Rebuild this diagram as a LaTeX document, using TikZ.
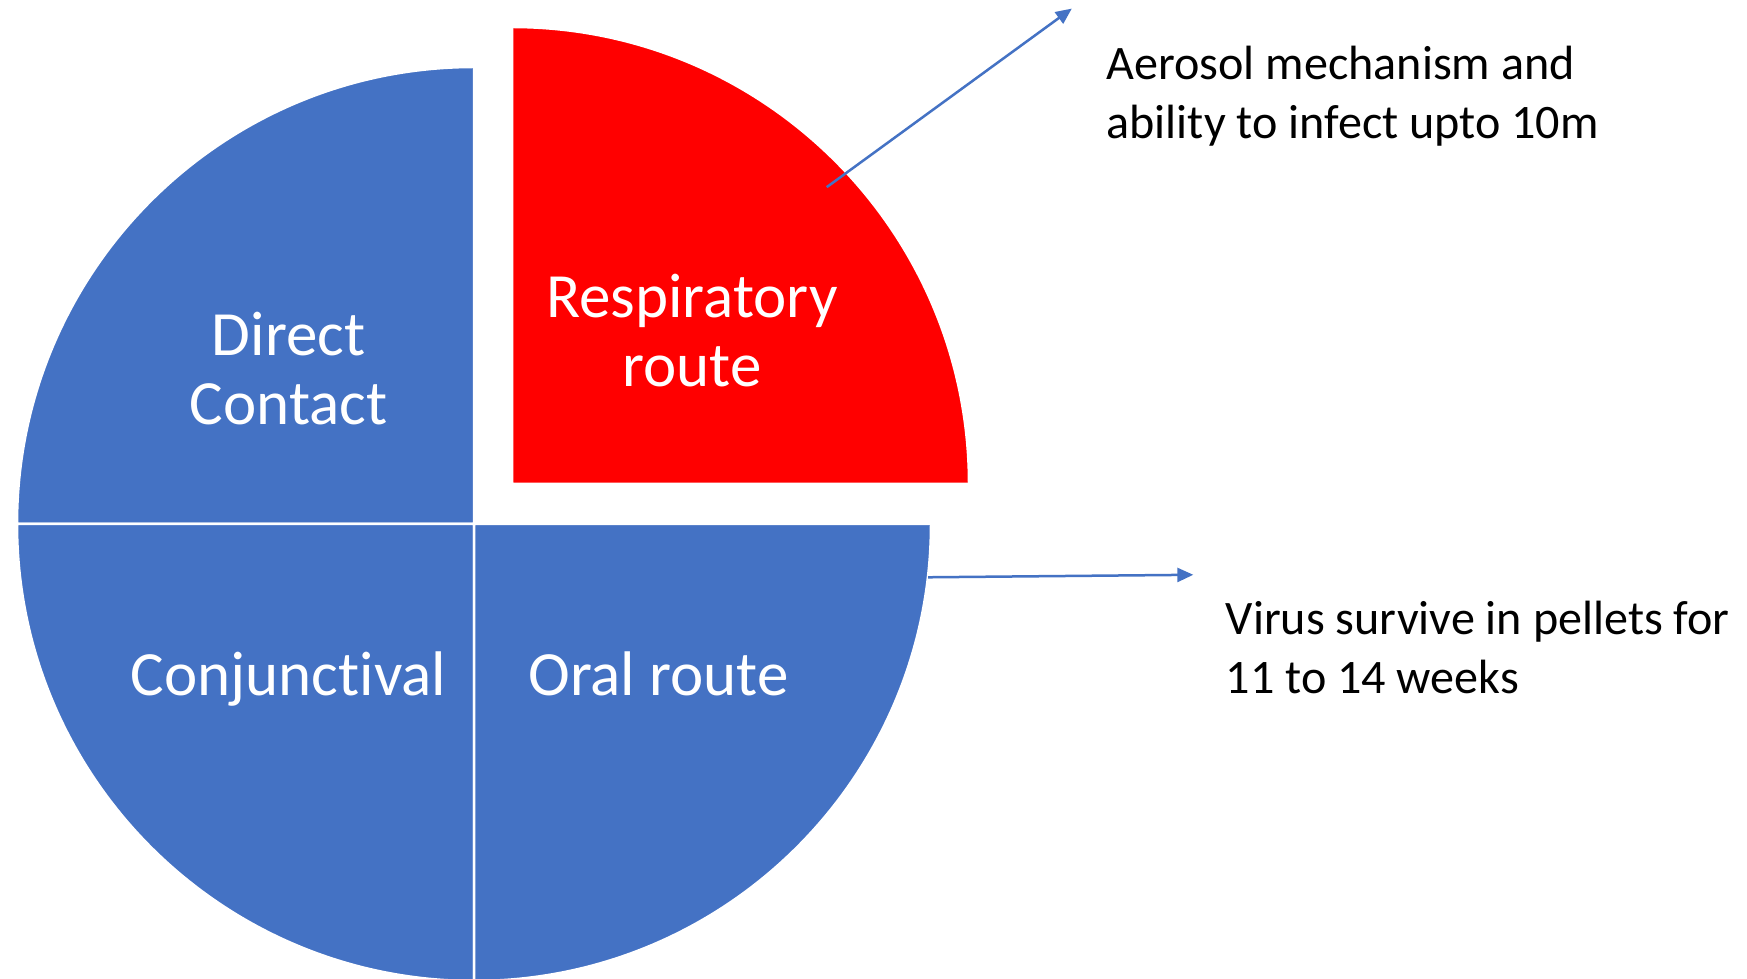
\documentclass[tikz,border=0pt]{standalone}
\usepackage{fontspec}
\setmainfont{Carlito}[Ligatures=NoCommon]
\usetikzlibrary{arrows.meta}
\definecolor{pieblue}{HTML}{4472C4}
\definecolor{piered}{HTML}{FF0000}
\begin{document}
\begin{tikzpicture}[x=1pt,y=1pt,
  slice/.style={draw=white, line width=2.5pt, line join=miter},
  biglabel/.style={text=white, font=\fontsize{63}{69}\selectfont, align=center, inner sep=0pt},
  note/.style={text=black, font=\fontsize{48.1}{59}\selectfont, align=left, inner sep=0pt, anchor=west},
  pointer/.style={draw=pieblue, line width=2.5pt, -{Triangle[length=16pt,width=14pt]}}]
\fill[white] (0,0) rectangle (1747,979);
\useasboundingbox (0,0) rectangle (1747,979);
% pie centre and the centre of the pulled-out slice
\coordinate (c) at (474,455);
\coordinate (cr) at (512,495);
% the four quarters
\fill[pieblue, slice] (c) -- ++(0,457) arc[start angle=90, end angle=180, radius=457] -- cycle;
\fill[pieblue, slice] (c) -- ++(-457,0) arc[start angle=180, end angle=270, radius=457] -- cycle;
\fill[pieblue, slice] (c) -- ++(0,-457) arc[start angle=270, end angle=360, radius=457] -- cycle;
\fill[piered, slice] (cr) -- ++(457,0) arc[start angle=0, end angle=90, radius=457] -- cycle;
% slice labels
\node[biglabel] (direct) at (288.6,610.2) {Direct\\Contact};
\node[biglabel] (resp) at (691.9,648) {Respiratory\\route};
\node[biglabel] (conj) at (288.6,299.5) {Conjunctival};
\node[biglabel] (oral) at (658.5,304.9) {Oral route};
% notes
\node[note] (aerosol) at (1106.4,882.5) {Aerosol mechanism and\\ability to infect upto 10m};
\node[note] (virus) at (1225.6,331.7) {Virus survive in pellets for\\11 to 14 weeks};
% pointers
\coordinate (p1s) at (826.7,791.8);
\coordinate (p1e) at (1071.8,970.4);
\coordinate (p2s) at (928,401.7);
\coordinate (p2e) at (1193.3,404.2);
\draw[pointer] (p1s) -- (p1e);
\draw[pointer] (p2s) -- (p2e);
\end{tikzpicture}
\end{document}
